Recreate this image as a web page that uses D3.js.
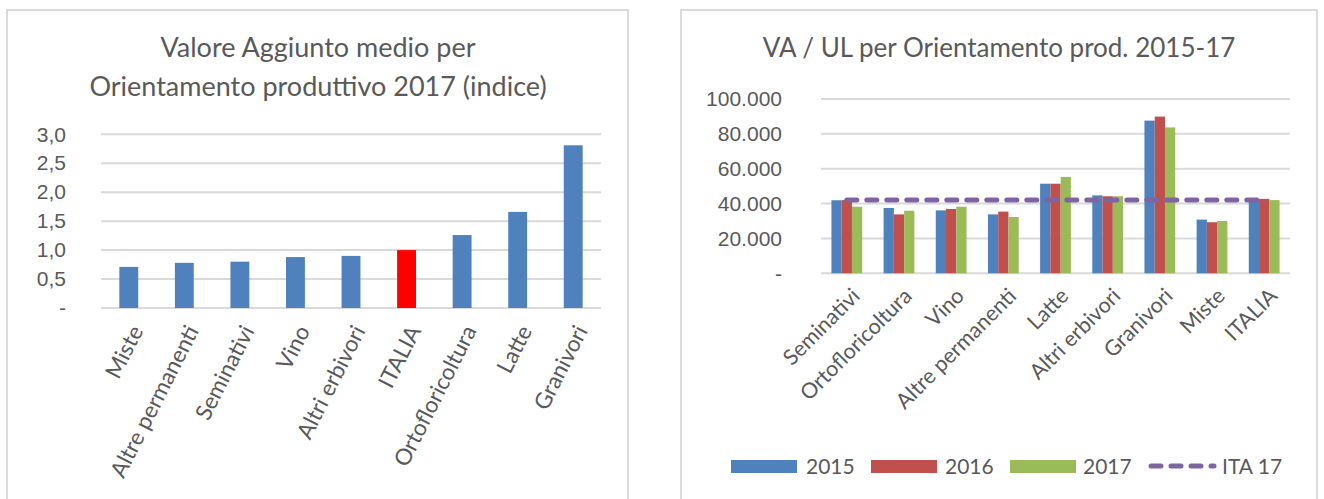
<!DOCTYPE html>
<html>
<head>
<meta charset="utf-8">
<script src="https://cdn.jsdelivr.net/npm/d3@7"></script>
<style>
  body { margin: 0; background: #fff; }
  svg { display: block; font-family: Lato, "Open Sans", sans-serif; }
  .tick text { fill: #595959; }
</style>
</head>
<body>
<svg id="chart" width="1324" height="499"></svg>
<script>
// left chart: index, 2017
const indexCategories = ["Miste", "Altre permanenti", "Seminativi", "Vino", "Altri erbivori", "ITALIA", "Ortofloricoltura", "Latte", "Granivori"];
const indexValues = [0.71, 0.78, 0.80, 0.88, 0.90, 1.0, 1.26, 1.66, 2.81];
const indexTicks = [0, 0.5, 1.0, 1.5, 2.0, 2.5, 3.0];

// right chart: VA / UL 2015-17
const vaCategories = ["Seminativi", "Ortofloricoltura", "Vino", "Altre permanenti", "Latte", "Altri erbivori", "Granivori", "Miste", "ITALIA"];
const years = ["2015", "2016", "2017"];
const va2015 = [41900, 37500, 36100, 33800, 51400, 44700, 87600, 30800, 42500];
const va2016 = [42000, 33800, 36900, 35400, 51400, 44200, 89900, 29300, 42700];
const va2017 = [38200, 35900, 38200, 32300, 55300, 44200, 83700, 30000, 42000];
const ita17 = 42000;
const vaTicks = [0, 20000, 40000, 60000, 80000, 100000];

const colors = { "2015": "#4F81BD", "2016": "#C0504D", "2017": "#9BBB59" };
const textColor = "#595959";
const gridColor = "#D9D9D9";

const locale = d3.formatLocale({ decimal: ",", thousands: ".", grouping: [3], currency: ["€", ""] });
const fmtIndex = d => d === 0 ? "-" : locale.format(".1f")(d);
const fmtVa = d => d === 0 ? "-" : locale.format(",.0f")(d);

const svg = d3.select("#chart");

// panel frames
svg.append("rect").attr("x", 7).attr("y", 10).attr("width", 621).attr("height", 520)
  .attr("fill", "none").attr("stroke", "#D0D0D0").attr("stroke-width", 1.5);
svg.append("rect").attr("x", 681).attr("y", 10).attr("width", 636).attr("height", 520)
  .attr("fill", "none").attr("stroke", "#D0D0D0").attr("stroke-width", 1.5);

// ---------- left chart ----------
{
  const x = d3.scaleBand().domain(indexCategories).range([101, 601]).paddingInner(0.66).paddingOuter(0.33);
  const y = d3.scaleLinear().domain([0, 3]).range([308, 134.3]);
  const g = svg.append("g");

  g.append("text").attr("x", 318).attr("y", 57).attr("text-anchor", "middle")
    .attr("fill", textColor).style("font-size", "27px").text("Valore Aggiunto medio per");
  g.append("text").attr("x", 318).attr("y", 96).attr("text-anchor", "middle")
    .attr("fill", textColor).style("font-size", "27px").text("Orientamento produttivo 2017 (indice)");

  g.selectAll(".grid").data(indexTicks).enter().append("line")
    .attr("x1", 101).attr("x2", 601)
    .attr("y1", d => y(d)).attr("y2", d => y(d))
    .attr("stroke", gridColor).attr("stroke-width", 2);

  const yAxis = g.append("g").attr("transform", "translate(66,0)")
    .call(d3.axisLeft(y).tickValues(indexTicks).tickFormat(fmtIndex).tickSize(0).tickPadding(0));
  yAxis.select(".domain").remove();
  yAxis.selectAll("text").style("font-size", "21px");

  g.selectAll(".bar").data(indexValues).enter().append("rect")
    .attr("x", (d, i) => x(indexCategories[i]))
    .attr("y", d => y(d))
    .attr("width", x.bandwidth())
    .attr("height", d => y(0) - y(d))
    .attr("fill", (d, i) => indexCategories[i] === "ITALIA" ? "#FF0000" : "#4F81BD");

  g.selectAll(".xlab").data(indexCategories).enter().append("text")
    .attr("transform", d => "translate(" + (x(d) + x.bandwidth() / 2 + 8) + "," + 327 + ") rotate(-63)")
    .attr("text-anchor", "end").attr("dy", "0.35em")
    .attr("fill", textColor).style("font-size", "22.5px").text(d => d);
}

// ---------- right chart ----------
{
  const x = d3.scaleBand().domain(vaCategories).range([821, 1290]).paddingInner(0.41).paddingOuter(0.2);
  const x1 = d3.scaleBand().domain(years).range([0, x.bandwidth()]);
  const y = d3.scaleLinear().domain([0, 100000]).range([273.3, 99]);
  const g = svg.append("g");
  const series = { "2015": va2015, "2016": va2016, "2017": va2017 };

  g.append("text").attr("x", 999).attr("y", 57).attr("text-anchor", "middle")
    .attr("fill", textColor).style("font-size", "26px").text("VA / UL per Orientamento prod. 2015-17");

  g.selectAll(".grid").data(vaTicks).enter().append("line")
    .attr("x1", 821).attr("x2", 1290)
    .attr("y1", d => y(d)).attr("y2", d => y(d))
    .attr("stroke", gridColor).attr("stroke-width", 2);

  const yAxis = g.append("g").attr("transform", "translate(782,0)")
    .call(d3.axisLeft(y).tickValues(vaTicks).tickFormat(fmtVa).tickSize(0).tickPadding(0));
  yAxis.select(".domain").remove();
  yAxis.selectAll("text").style("font-size", "21px");

  const groups = g.selectAll(".grp").data(vaCategories).enter().append("g")
    .attr("transform", d => "translate(" + x(d) + ",0)");
  groups.selectAll("rect").data((c, i) => years.map(yr => ({ yr, v: series[yr][i] }))).enter().append("rect")
    .attr("x", d => x1(d.yr))
    .attr("y", d => y(d.v))
    .attr("width", x1.bandwidth())
    .attr("height", d => y(0) - y(d.v))
    .attr("fill", d => colors[d.yr]);

  const line = d3.line().x(d => x(d) + x.bandwidth() / 2).y(() => y(ita17));
  g.append("path").datum(vaCategories).attr("d", line)
    .attr("fill", "none").attr("stroke", "#8064A2").attr("stroke-width", 5)
    .attr("stroke-dasharray", "10,10").attr("stroke-linecap", "round");

  g.selectAll(".xlab").data(vaCategories).enter().append("text")
    .attr("transform", d => "translate(" + (x(d) + x.bandwidth() / 2 + 9) + "," + 292 + ") rotate(-45)")
    .attr("text-anchor", "end").attr("dy", "0.35em")
    .attr("fill", textColor).style("font-size", "21.5px").text(d => d);

  // legend
  const legendItems = [
    { key: "2015", x: 731, tx: 806 },
    { key: "2016", x: 871, tx: 945 },
    { key: "2017", x: 1010, tx: 1083 },
    { key: "ITA 17", x: 1148, tx: 1222 }
  ];
  const lg = g.append("g");
  legendItems.forEach(it => {
    if (it.key === "ITA 17") {
      lg.append("line").attr("x1", it.x + 3).attr("x2", it.x + 66).attr("y1", 466).attr("y2", 466)
        .attr("stroke", "#8064A2").attr("stroke-width", 5)
        .attr("stroke-dasharray", "10,10").attr("stroke-linecap", "round");
    } else {
      lg.append("rect").attr("x", it.x).attr("y", 460).attr("width", 66).attr("height", 13)
        .attr("fill", colors[it.key]);
    }
    lg.append("text").attr("x", it.tx).attr("y", 474).attr("fill", textColor)
      .style("font-size", "21px").text(it.key);
  });
}
</script>
</body>
</html>
